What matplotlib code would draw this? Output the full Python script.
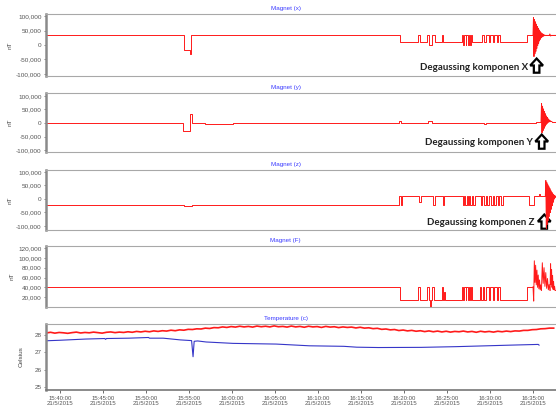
import matplotlib.pyplot as plt
import matplotlib.transforms as mtransforms
from matplotlib.patches import Polygon
import numpy as np

plt.rcParams["font.family"] = ["Liberation Sans", "DejaVu Sans"]

# time axis: minutes after 15:40:00, 21/5/2015
tick_pos = [0, 5, 10, 15, 20, 25, 30, 35, 40, 45, 50, 55]
tick_labels = [
    "15:40:00\n21/5/2015", "15:45:00\n21/5/2015", "15:50:00\n21/5/2015",
    "15:55:00\n21/5/2015", "16:00:00\n21/5/2015", "16:05:00\n21/5/2015",
    "16:10:00\n21/5/2015", "16:15:00\n21/5/2015", "16:20:00\n21/5/2015",
    "16:25:00\n21/5/2015", "16:30:00\n21/5/2015", "16:35:00\n21/5/2015",
]
x_start, x_end = -1.63, 57.67

# Magnet (x) - step part
mx_t = [-1.63, 14.42, 15.12, 15.23, 39.53, 41.63, 41.8, 42.67, 42.9, 43.26, 43.6,
        44.42, 44.55, 46.74, 46.9, 47.0, 47.15, 47.25, 47.4, 47.5, 47.65, 47.75, 47.91,
        49.07, 49.35, 49.5, 49.85, 50.0, 50.35, 50.5, 50.85, 50.95, 51.16, 54.3, 55.0]
mx_v = [33000, -18000, -30000, 33000, 12000, 33000, 12000, 36000, 0, 36000, 12000,
        33000, 12000, 36000, 0, 36000, 0, 36000, 0, 36000, 0, 36000, 12000,
        33000, 12000, 33000, 12000, 33000, 12000, 33000, 12000, 33000, 12000, 36000, 36000]
# Magnet (x) - degaussing burst and tail
mx_deg = [36000, 95000, -40000, 88000, -30000, 80000, -22000, 72000, -12000, 64000,
          -2000, 58000, 6000, 52000, 14000, 47000, 20000, 43000, 25000, 40000,
          28000, 38000, 30000, 36000, 32000, 34000, 33000]
mx_tail_t = [56.4, 56.9, 56.95, 57.05, 57.1, 57.67]
mx_tail_v = [33000, 33000, 38000, 31000, 33000, 33000]

# Magnet (y)
my_t = [-1.63, 3.3, 3.5, 8.2, 8.4, 10.0, 10.2, 12.1, 12.3, 14.3, 15.12, 15.3,
        16.86, 20.12, 39.42, 39.6, 42.79, 43.2, 49.3, 49.5, 55.35, 55.93]
my_v = [0, 1500, 0, 1500, 0, 1500, 0, 1500, 0, -30000, 32000, 0,
        -3000, 0, 8000, 0, 6000, 0, -2000, 0, 5000, 5000]
my_deg = [5000, 72000, -36000, 62000, -28000, 52000, -20000, 42000, -12000, 34000,
          -6000, 26000, -2000, 20000, 2000, 15000, 4000, 11000, 5000, 8000, 5000, 6000, 5000]
my_tail_t = [57.2, 57.67]
my_tail_v = [5000, 5000]

# Magnet (z)
mz_t = [-1.63, 14.42, 15.35, 39.42, 39.6, 39.75, 41.78, 41.95, 42.76, 43.34, 43.57,
        44.5, 44.7, 46.83, 47.0, 47.1, 47.3, 47.4, 47.6, 47.7, 47.9, 48.0, 48.2, 48.37,
        48.95, 49.1, 49.3, 49.5, 49.7, 49.9, 50.1, 50.3, 50.5, 50.7, 50.9, 51.1, 51.3, 51.48,
        54.57, 55.15, 55.7, 55.8, 56.43]
mz_v = [-21000, -25000, -21000, 9000, -21000, 9000, -10000, 9000, 12000, -21000, 12000,
        -21000, 12000, -21000, 12000, -21000, 12000, -21000, 12000, -21000, 12000, -21000, 12000, 12000,
        -21000, 12000, -21000, 12000, -21000, 12000, -21000, 12000, -21000, 12000, -21000, 12000, -21000, 9000,
        -21000, 9000, 18000, 9000, 9000]
mz_deg = [9000, 68000, -110000, 60000, -95000, 52000, -80000, 45000, -65000, 38000,
          -50000, 30000, -38000, 24000, -25000, 18000, -12000, 14000, 0, 11000, 6000, 10000]

# Magnet (F)
mf_t = [-1.63, 39.53, 41.63, 41.8, 42.67, 42.85, 42.97, 43.1, 43.3, 43.45, 44.42, 44.55,
        44.65, 44.75, 46.74, 46.9, 47.0, 47.15, 47.25, 47.4, 47.5, 47.65, 47.75, 47.91,
        48.84, 49.0, 49.2, 49.35, 49.5, 49.85, 50.0, 50.35, 50.5, 50.85, 50.95, 51.16, 54.3, 55.0]
mf_v = [41000, 14000, 41000, 14000, 41000, 14000, 1000, 14000, 41000, 14000, 41000, 14000,
        30000, 14000, 41000, 14000, 41000, 14000, 41000, 14000, 41000, 14000, 41000, 14000,
        41000, 14000, 41000, 14000, 41000, 14000, 41000, 14000, 41000, 14000, 41000, 14000, 41000, 41000]
mf_deg1 = [41000, 12000, 94000, 50000, 85000, 45000, 75000, 40000, 65000, 37000, 55000, 35000, 45000, 34000]
mf_deg2 = [34000, 90000, 48000, 80000, 42000, 70000, 38000, 58000, 35000, 46000, 34000]
mf_deg3 = [34000, 88000, 46000, 76000, 40000, 64000, 36000, 52000, 35000, 42000, 34000]
mf_tail_t = [57.56, 57.67]
mf_tail_v = [34000, 34000]

# Temperature (red sensor, noisy) and (blue sensor)
tr_t = np.arange(-1.6, 57.5, 0.5)
tr_v = [28.12, 28.16, 28.11, 28.15, 28.13, 28.10, 28.14, 28.17, 28.12, 28.15,
        28.13, 28.17, 28.14, 28.11, 28.16, 28.18, 28.14, 28.17, 28.15, 28.19,
        28.16, 28.21, 28.18, 28.22, 28.19, 28.24, 28.21, 28.25, 28.23, 28.28,
        28.25, 28.30, 28.28, 28.33, 28.32, 28.36, 28.35, 28.40, 28.38, 28.43,
        28.42, 28.47, 28.44, 28.49, 28.46, 28.51, 28.47, 28.50, 28.46, 28.52,
        28.48, 28.51, 28.47, 28.53, 28.48, 28.50, 28.46, 28.52, 28.47, 28.50,
        28.45, 28.51, 28.47, 28.49, 28.44, 28.50, 28.46, 28.48, 28.43, 28.47,
        28.44, 28.46, 28.41, 28.45, 28.40, 28.42, 28.37, 28.39, 28.33, 28.35,
        28.30, 28.32, 28.26, 28.29, 28.24, 28.27, 28.22, 28.25, 28.20, 28.24,
        28.19, 28.23, 28.18, 28.22, 28.17, 28.21, 28.19, 28.23, 28.18, 28.21,
        28.16, 28.22, 28.18, 28.21, 28.17, 28.22, 28.19, 28.23, 28.20, 28.24,
        28.23, 28.27, 28.27, 28.31, 28.32, 28.36, 28.37, 28.40, 28.40]
tb_t = [-1.63, 0, 3, 5.2, 5.3, 5.4, 8, 10.3, 10.4, 12, 14, 15.3, 15.47, 15.6, 16.0,
        17, 20.12, 25.12, 29, 33, 34.5, 37, 42, 46, 52.5, 55.6, 55.7]
tb_v = [27.67, 27.70, 27.77, 27.80, 27.75, 27.80, 27.82, 27.86, 27.82, 27.82, 27.72,
        27.68, 26.75, 27.64, 27.66, 27.60, 27.52, 27.48, 27.38, 27.35, 27.30, 27.28,
        27.29, 27.33, 27.42, 27.46, 27.42]

# layout (figure fractions)
panels = [
    (0.8142, 0.1516), (0.6284, 0.1443), (0.4377, 0.1467), (0.2494, 0.1490), (0.0465, 0.1614)
]
titles = ["Magnet (x)", "Magnet (y)", "Magnet (z)", "Magnet (F)", "Temperature (c)"]

fig = plt.figure(figsize=(5.56, 4.09), dpi=100)
axes = []
for (b, h), title in zip(panels, titles):
    ax = fig.add_axes([0.0827, b, 0.9173, h])
    ax.set_xlim(x_start, x_end)
    ax.spines["right"].set_visible(False)
    ax.spines["top"].set_color("#a8a8a8")
    ax.spines["bottom"].set_color("#a8a8a8")
    ax.spines["left"].set_color("#8a8a8a")
    ax.spines["left"].set_linewidth(1.8)
    ax.tick_params(axis="y", labelsize=4.6, length=1.5, width=0.5, colors="#555555", pad=1.5)
    ax.set_xticks([])
    ax.text(0.47, 1.05, title, transform=ax.transAxes, ha="center", va="bottom",
            fontsize=4.5, color="#3a3aff")
    axes.append(ax)

red = "#ff1a1a"
mag_ticks = [-100000, -50000, 0, 50000, 100000]
mag_labels = ["-100,000", "-50,000", "0", "50,000", "100,000"]

# Magnet (x)
ax = axes[0]
ax.plot(mx_t + [x_end], mx_v + [mx_v[-1]], drawstyle="steps-post", color=red, lw=0.7)
ax.plot(np.linspace(55.0, 56.4, len(mx_deg)), mx_deg, color=red, lw=0.7)
ax.plot(mx_tail_t, mx_tail_v, color=red, lw=0.7)
ax.set_ylim(-107000, 107000)

# Magnet (y)
ax = axes[1]
ax.plot(my_t, my_v, drawstyle="steps-post", color=red, lw=0.7)
ax.plot(np.linspace(55.93, 57.2, len(my_deg)), my_deg, color=red, lw=0.7)
ax.plot(my_tail_t, my_tail_v, color=red, lw=0.7)
ax.set_ylim(-107000, 111000)

# Magnet (z)
ax = axes[2]
ax.plot(mz_t, mz_v, drawstyle="steps-post", color=red, lw=0.7)
ax.plot(np.linspace(56.43, x_end, len(mz_deg)), mz_deg, color=red, lw=0.7)
ax.set_ylim(-115000, 107000)

for ax in axes[:3]:
    ax.set_yticks(mag_ticks)
    ax.set_yticklabels(mag_labels)

# Magnet (F)
ax = axes[3]
ax.plot(mf_t, mf_v, drawstyle="steps-post", color=red, lw=0.7)
ax.plot(np.linspace(55.0, 55.98, len(mf_deg1)), mf_deg1, color=red, lw=0.7)
ax.plot(np.linspace(55.98, 56.98, len(mf_deg2)), mf_deg2, color=red, lw=0.7)
ax.plot(np.linspace(56.98, 57.56, len(mf_deg3)), mf_deg3, color=red, lw=0.7)
ax.plot(mf_tail_t, mf_tail_v, color=red, lw=0.7)
ax.set_ylim(0, 124000)
f_ticks = [20000, 40000, 60000, 80000, 100000, 120000]
ax.set_yticks(f_ticks)
ax.set_yticklabels(["20,000", "40,000", "60,000", "80,000", "100,000", "120,000"])

for ax in axes[:4]:
    ax.set_ylabel("nT", fontsize=4.6, color="#444444", labelpad=3)

# Temperature
ax = axes[4]
ax.plot(tr_t, tr_v, color=red, lw=1.2)
ax.plot(tb_t, tb_v, color="#3636c8", lw=0.8)
ax.set_ylim(24.83, 28.64)
ax.set_yticks([25, 26, 27, 28])
ax.set_ylabel("Celsius", fontsize=4.6, color="#444444", labelpad=8)
ax.spines["bottom"].set_color("#777777")
ax.spines["bottom"].set_linewidth(1.2)
ax.set_xticks(tick_pos)
ax.set_xticklabels(tick_labels)
ax.tick_params(axis="x", labelsize=4.3, length=2, width=0.6, colors="#555555", pad=2)

# degaussing annotations with outlined up-arrows
arrow_shape = np.array([[0, 5.2], [-4.6, 0.2], [-2.0, 0.2], [-2.0, -5.0],
                        [2.0, -5.0], [2.0, 0.2], [4.6, 0.2]]) / 72.0
notes = [(0, "Degaussing komponen X", 0.945, 0.145, 0.962),
         (1, "Degaussing komponen Y", 0.955, 0.153, 0.972),
         (2, "Degaussing komponen Z", 0.957, 0.117, 0.977)]
for i, label, xt, yt, xa in notes:
    ax = axes[i]
    ax.text(xt, yt, label, transform=ax.transAxes, ha="right", va="center",
            fontsize=7, fontweight="bold", family="Lato", color="#222222")
    trans = fig.dpi_scale_trans + mtransforms.ScaledTranslation(xa, yt + 0.02, ax.transAxes)
    ax.add_patch(Polygon(arrow_shape, closed=True, transform=trans, facecolor="white",
                         edgecolor="black", lw=1.6, joinstyle="miter", clip_on=False))

fig.savefig("out.png", dpi=100)
